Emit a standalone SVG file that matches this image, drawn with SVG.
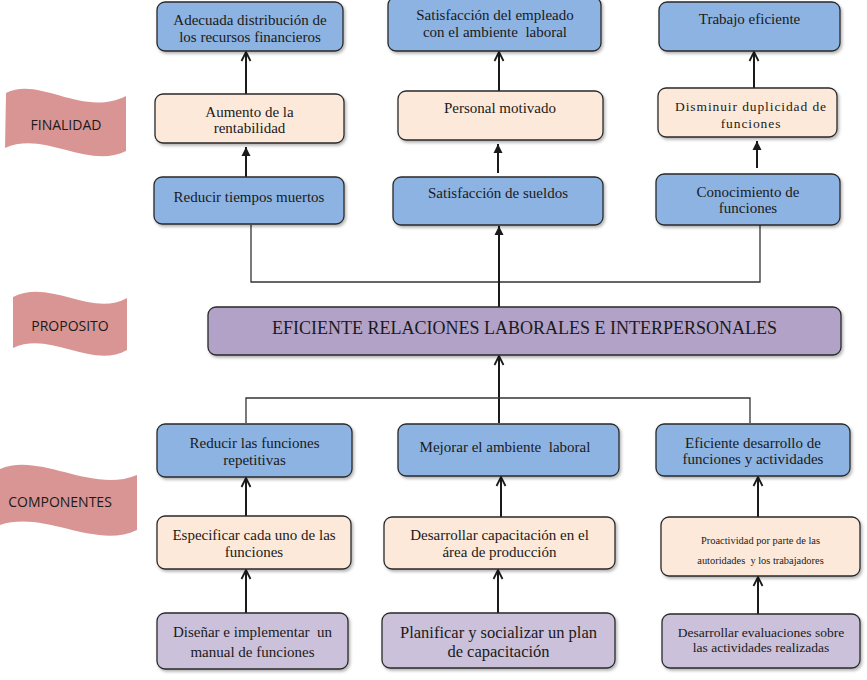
<svg xmlns="http://www.w3.org/2000/svg" width="867" height="680" viewBox="0 0 867 680">
  <defs>
    <style>
      .box { stroke: #2a2a2a; stroke-width: 1.3; filter: url(#shadow); }
      .blue { fill: #8db3e2; }
      .peach { fill: #fde9d9; }
      .purple { fill: #b2a2c7; }
      .lilac { fill: #ccc1da; }
      .flag { fill: #d99594; }
      .t { font-family: "Liberation Serif", "Times New Roman", serif; font-size: 15px; fill: #1a1a1a; text-anchor: middle; white-space: pre; }
      .flagtxt { font-family: "Open Sans", "Noto Sans", "Liberation Sans", sans-serif; font-size: 14px; fill: #1a1a1a; text-anchor: middle; }
      .arrow { stroke: #1a1a1a; stroke-width: 2; fill: none; }
      .bracket { stroke: #333; stroke-width: 1.3; fill: none; }
    </style>
    <filter id="shadow" x="-10%" y="-10%" width="125%" height="140%">
      <feDropShadow dx="1.5" dy="2" stdDeviation="1.5" flood-color="#000" flood-opacity="0.3"/>
    </filter>
    <marker id="open" markerUnits="userSpaceOnUse" markerWidth="12" markerHeight="12" refX="10" refY="5" orient="auto" viewBox="0 0 12 10">
      <path d="M1,0.5 L10,5 L1,9.5" fill="none" stroke="#1a1a1a" stroke-width="1.8"/>
    </marker>
    <marker id="filled" markerUnits="userSpaceOnUse" markerWidth="10" markerHeight="10" refX="9" refY="4.5" orient="auto" viewBox="0 0 10 9">
      <path d="M0,0 L9,4.5 L0,9 Z" fill="#1a1a1a"/>
    </marker>
  </defs>

  <rect width="867" height="680" fill="#ffffff"/>

  <!-- level banners -->
  <g id="flag-finalidad">
    <path class="flag" d="M6,93 C40,76 82,118 126,96 L126,151 C88,170 44,130 5,148 Z"/>
    <text class="flagtxt" x="66" y="130">FINALIDAD</text>
  </g>
  <g id="flag-proposito">
    <path class="flag" d="M13,297 C50,278 92,318 127,298 L127,350 C92,370 50,330 13,348 Z"/>
    <text class="flagtxt" x="70" y="331">PROPOSITO</text>
  </g>
  <g id="flag-componentes">
    <path class="flag" d="M0,469 C40,452 92,494 137,475 L137,530 C95,550 45,510 0,525 Z"/>
    <text class="flagtxt" x="60" y="507">COMPONENTES</text>
  </g>

  <!-- connectors -->
  <g id="connectors">
    <line class="arrow" x1="246" y1="94" x2="246" y2="52" marker-end="url(#open)"/>
    <line class="arrow" x1="246" y1="177" x2="246" y2="147" marker-end="url(#filled)"/>
    <line class="arrow" x1="499" y1="91" x2="499" y2="52" marker-end="url(#open)"/>
    <line class="arrow" x1="498" y1="173" x2="498" y2="144" marker-end="url(#filled)"/>
    <line class="arrow" x1="754" y1="88" x2="754" y2="52" marker-end="url(#open)"/>
    <line class="arrow" x1="757" y1="168" x2="757" y2="141" marker-end="url(#filled)"/>
    <path class="bracket" d="M251,225 V282 H760 V225"/>
    <line class="arrow" x1="499" y1="307" x2="499" y2="226" marker-end="url(#filled)"/>
    <line class="arrow" x1="499" y1="423" x2="499" y2="356" marker-end="url(#open)"/>
    <path class="bracket" d="M246,423 V398 H750 V423"/>
    <line class="arrow" x1="246" y1="516" x2="246" y2="478" marker-end="url(#open)"/>
    <line class="arrow" x1="246" y1="613" x2="246" y2="570" marker-end="url(#open)"/>
    <line class="arrow" x1="501" y1="517" x2="501" y2="477" marker-end="url(#open)"/>
    <line class="arrow" x1="498" y1="613" x2="498" y2="570" marker-end="url(#open)"/>
    <line class="arrow" x1="758" y1="517" x2="758" y2="477" marker-end="url(#open)"/>
    <line class="arrow" x1="758" y1="614" x2="758" y2="577" marker-end="url(#open)"/>
  </g>

  <!-- FINALIDAD: top row -->
  <g id="n-adecuada">
    <rect class="box blue" x="157" y="2" width="186" height="49" rx="8"/>
    <text class="t" x="250" y="25">Adecuada distribución de</text>
    <text class="t" x="250" y="42">los recursos financieros</text>
  </g>
  <g id="n-satisfaccion-empleado">
    <rect class="box blue" x="388" y="-3" width="213" height="54" rx="8"/>
    <text class="t" x="495" y="20">Satisfacción del empleado</text>
    <text class="t" x="495" y="37">con el ambiente  laboral</text>
  </g>
  <g id="n-trabajo">
    <rect class="box blue" x="659" y="2" width="181" height="49" rx="8"/>
    <text class="t" x="749.5" y="24">Trabajo eficiente</text>
  </g>

  <!-- FINALIDAD: middle row -->
  <g id="n-aumento">
    <rect class="box peach" x="155" y="94" width="189" height="49" rx="8"/>
    <text class="t" x="249.5" y="117">Aumento de la</text>
    <text class="t" x="249.5" y="133">rentabilidad</text>
  </g>
  <g id="n-personal">
    <rect class="box peach" x="398" y="91" width="205" height="49" rx="8"/>
    <text class="t" x="500" y="113">Personal motivado</text>
  </g>
  <g id="n-disminuir">
    <rect class="box peach" x="658" y="88" width="179" height="49" rx="8"/>
    <text class="t" x="751" y="110.5" style="font-size:13.5px;letter-spacing:0.9px">Disminuir duplicidad de</text>
    <text class="t" x="751" y="127.5" style="font-size:13.5px;letter-spacing:0.9px">funciones</text>
  </g>

  <!-- FINALIDAD: bottom row -->
  <g id="n-reducir-tiempos">
    <rect class="box blue" x="154" y="177" width="190" height="47" rx="8"/>
    <text class="t" x="249" y="202">Reducir tiempos muertos</text>
  </g>
  <g id="n-sueldos">
    <rect class="box blue" x="393" y="177" width="210" height="48" rx="8"/>
    <text class="t" x="498" y="198">Satisfacción de sueldos</text>
  </g>
  <g id="n-conocimiento">
    <rect class="box blue" x="656" y="174" width="184" height="51" rx="8"/>
    <text class="t" x="748" y="197">Conocimiento de</text>
    <text class="t" x="748" y="213">funciones</text>
  </g>

  <!-- PROPOSITO -->
  <g id="n-proposito">
    <rect class="box purple" x="208" y="307" width="633" height="48" rx="8"/>
    <text class="t" x="524.5" y="333.5" style="font-size:18px">EFICIENTE RELACIONES LABORALES E INTERPERSONALES</text>
  </g>

  <!-- COMPONENTES: top row -->
  <g id="n-reducir-funciones">
    <rect class="box blue" x="157" y="424" width="195" height="53" rx="8"/>
    <text class="t" x="254.5" y="448">Reducir las funciones</text>
    <text class="t" x="254.5" y="465">repetitivas</text>
  </g>
  <g id="n-mejorar">
    <rect class="box blue" x="398" y="424" width="221" height="52" rx="8"/>
    <text class="t" x="505" y="452">Mejorar el ambiente  laboral</text>
  </g>
  <g id="n-eficiente-desarrollo">
    <rect class="box blue" x="656" y="424" width="194" height="52" rx="8"/>
    <text class="t" x="753" y="448">Eficiente desarrollo de</text>
    <text class="t" x="753" y="464">funciones y actividades</text>
  </g>

  <!-- COMPONENTES: middle row -->
  <g id="n-especificar">
    <rect class="box peach" x="157" y="516" width="194" height="53" rx="8"/>
    <text class="t" x="254" y="540">Especificar cada uno de las</text>
    <text class="t" x="254" y="557">funciones</text>
  </g>
  <g id="n-capacitacion">
    <rect class="box peach" x="384" y="517" width="231" height="52" rx="8"/>
    <text class="t" x="499.5" y="540">Desarrollar capacitación en el</text>
    <text class="t" x="499.5" y="557">área de producción</text>
  </g>
  <g id="n-proactividad">
    <rect class="box peach" x="661" y="517" width="199" height="59" rx="8"/>
    <text class="t" x="760.5" y="543.5" style="font-size:10.4px">Proactividad por parte de las</text>
    <text class="t" x="760.5" y="563.5" style="font-size:10.4px">autoridades  y los trabajadores</text>
  </g>

  <!-- COMPONENTES: bottom row -->
  <g id="n-disenar">
    <rect class="box lilac" x="157" y="613" width="191" height="56" rx="8"/>
    <text class="t" x="252.5" y="637">Diseñar e implementar  un</text>
    <text class="t" x="252.5" y="657">manual de funciones</text>
  </g>
  <g id="n-planificar">
    <rect class="box lilac" x="382" y="613" width="233" height="55" rx="8"/>
    <text class="t" x="498.5" y="637.5" style="font-size:16.5px">Planificar y socializar un plan</text>
    <text class="t" x="498.5" y="656.5" style="font-size:16.5px">de capacitación</text>
  </g>
  <g id="n-evaluaciones">
    <rect class="box lilac" x="662" y="614" width="198" height="54" rx="8"/>
    <text class="t" x="761" y="636.5" style="font-size:13.5px">Desarrollar evaluaciones sobre</text>
    <text class="t" x="761" y="651.5" style="font-size:13.5px">las actividades realizadas</text>
  </g>
</svg>
